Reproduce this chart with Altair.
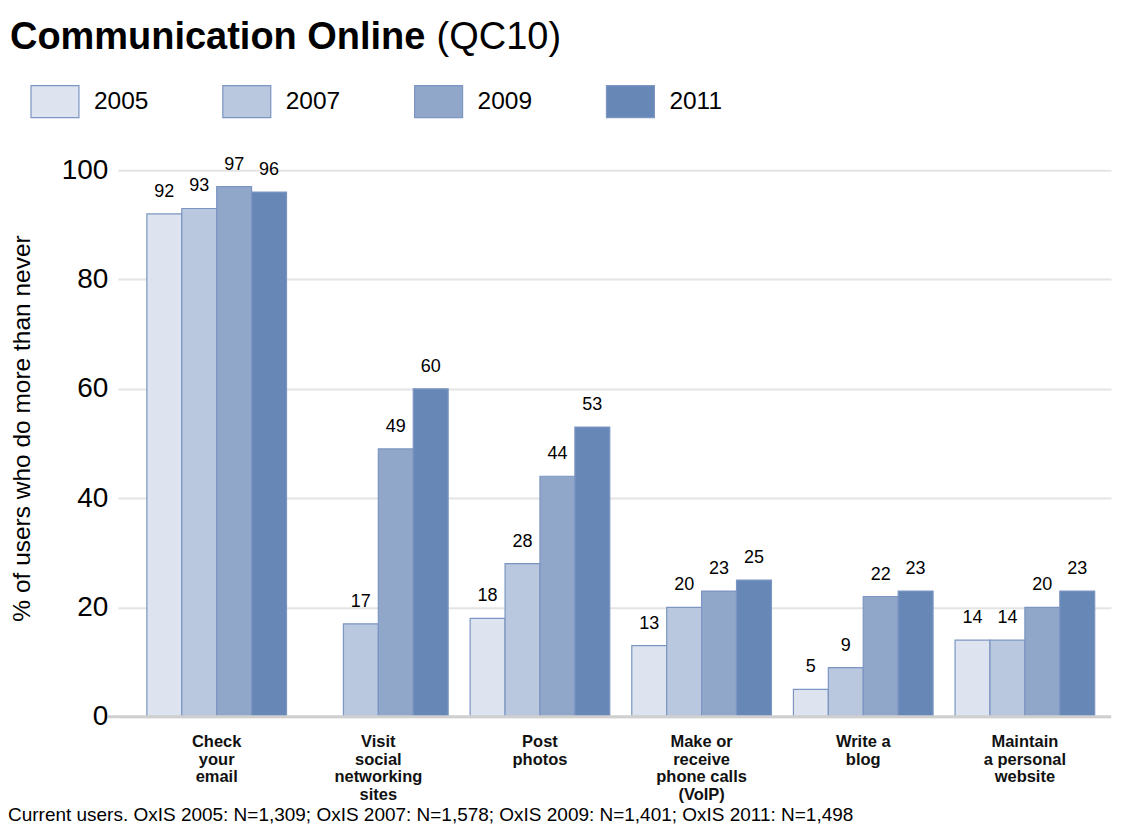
import altair as alt
import pandas as pd

categories = [
    "Check|your|email",
    "Visit|social|networking|sites",
    "Post|photos",
    "Make or|receive|phone calls|(VoIP)",
    "Write a|blog",
    "Maintain|a personal|website",
]
years = ["2005", "2007", "2009", "2011"]
values = {
    "2005": [92, None, 18, 13, 5, 14],
    "2007": [93, 17, 28, 20, 9, 14],
    "2009": [97, 49, 44, 23, 22, 20],
    "2011": [96, 60, 53, 25, 23, 23],
}
colors = ["#dde4ef", "#b9c7df", "#90a7ca", "#6787b7"]
title_main = "Communication Online"
title_code = "(QC10)"
footnote = "Current users. OxIS 2005: N=1,309; OxIS 2007: N=1,578; OxIS 2009: N=1,401; OxIS 2011: N=1,498"
y_title = "% of users who do more than never"

rows = []
for y in years:
    for c, v in zip(categories, values[y]):
        if v is not None:
            rows.append({"cat": c, "year": y, "value": v})
df = pd.DataFrame(rows)

W, H = 994, 547
FONT = "Liberation Sans"
NARROW = "Liberation Sans Narrow, Liberation Sans"

x_axis = alt.Axis(
    title=None,
    labelExpr="split(datum.label, '|')",
    labelAngle=0,
    labelFont=NARROW,
    labelFontSize=16.5,
    labelFontWeight="bold",
    labelLineHeight=17.5,
    labelColor="#111111",
    labelPadding=17,
    labelBaseline="top",
    ticks=False,
    domain=False,
    grid=False,
)
y_axis = alt.Axis(
    values=[0, 20, 40, 60, 80, 100],
    title=y_title,
    titleFont=FONT,
    titleFontSize=24.5,
    titleFontWeight="normal",
    titleColor="#000000",
    titleX=-95,
    titleY=258,
    titleAngle=270,
    titleBaseline="middle",
    labelFont=FONT,
    labelFontSize=28,
    labelColor="#000000",
    labelPadding=10,
    ticks=False,
    domain=False,
    grid=True,
    gridColor="#e4e4e4",
    gridWidth=2,
)
x_scale = alt.Scale(domain=categories, paddingInner=0.136, paddingOuter=0.14, align=0.64)
y_scale = alt.Scale(domain=[0, 100], nice=False)

x_enc = alt.X("cat:N", sort=categories, scale=x_scale, axis=x_axis)
y_enc = alt.Y("value:Q", scale=y_scale, axis=y_axis)
xoff = alt.XOffset("year:N", sort=years, scale=alt.Scale(domain=years, paddingInner=0, paddingOuter=0))

bars = alt.Chart(df).mark_bar(stroke="#7c95c2", strokeWidth=1.2).encode(
    x=x_enc,
    xOffset=xoff,
    y=y_enc,
    color=alt.Color(
        "year:N",
        sort=years,
        scale=alt.Scale(domain=years, range=colors),
        legend=alt.Legend(
            title=None,
            orient="none",
            legendX=-80,
            legendY=-86,
            direction="horizontal",
            symbolType="M-1.5,-1H1.5V1H-1.5Z",
            symbolSize=1024,
            symbolStrokeColor="#7c95c2",
            symbolStrokeWidth=1.2,
            symbolOpacity=1,
            labelFont=FONT,
            labelFontSize=24.5,
            labelColor="#000000",
            labelOffset=22,
            columnPadding=71,
            symbolOffset=0,
        ),
    ),
)

labels = alt.Chart(df).mark_text(
    baseline="bottom", dy=-13, font=FONT, fontSize=18, color="#000000"
).encode(
    x=x_enc,
    xOffset=xoff,
    y=y_enc,
    text=alt.Text("value:Q", format=".0f"),
)

zero = alt.Chart(pd.DataFrame({"value": [0]})).mark_rule(color="#cfcfcf", strokeWidth=3).encode(
    y=y_enc, x=alt.value(-10), x2=alt.value(W)
)

t1 = alt.Chart(pd.DataFrame({"t": [title_main]})).mark_text(
    align="left", baseline="alphabetic", font=FONT, fontSize=38, fontWeight="bold", color="#000000"
).encode(text="t:N", x=alt.value(-108), y=alt.value(-121))
t2 = alt.Chart(pd.DataFrame({"t": [title_code]})).mark_text(
    align="left", baseline="alphabetic", font=FONT, fontSize=38, fontWeight="normal", color="#000000"
).encode(text="t:N", x=alt.value(-110 + 429), y=alt.value(-121))
fn = alt.Chart(pd.DataFrame({"t": [footnote]})).mark_text(
    align="left", baseline="alphabetic", font=FONT, fontSize=19, color="#000000"
).encode(text="t:N", x=alt.value(-110), y=alt.value(H + 104))

chart = (
    alt.layer(bars, zero, labels, t1, t2, fn)
    .properties(
        width=W,
        height=H,
        autosize=alt.AutoSizeParams(type="none"),
        padding={"left": 110, "top": 162, "right": 2, "bottom": 107},
    )
    .configure_view(strokeWidth=0, stroke=None, fill=None)
    .configure(background="#ffffff", style={"cell": {"stroke": "transparent", "strokeWidth": 0}})
)

chart.save("out.html", embed_options={"renderer": "svg", "actions": False})
